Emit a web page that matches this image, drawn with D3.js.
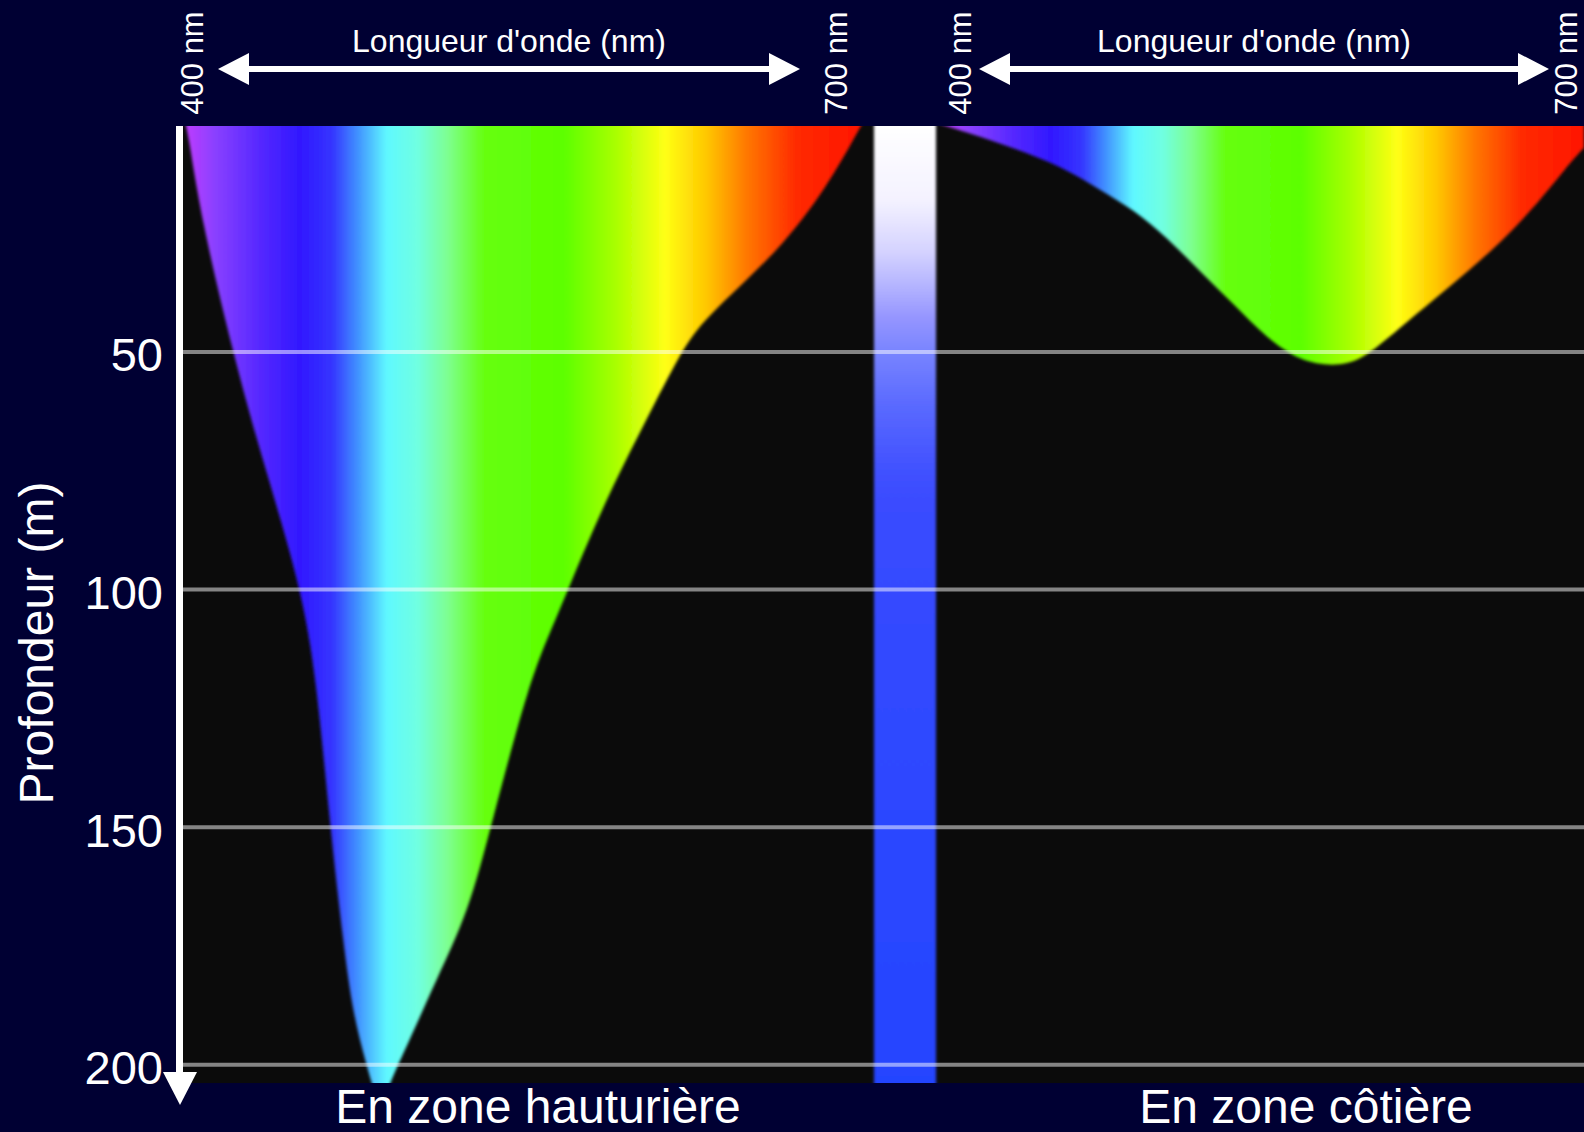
<!DOCTYPE html>
<html>
<head>
<meta charset="utf-8">
<script src="https://cdn.jsdelivr.net/npm/d3@7"></script>
<style>
    html, body { margin: 0; padding: 0; background: #000033; }
    svg { display: block; }
    text { font-family: "Liberation Sans", Arial, sans-serif; fill: #fff; }
</style>
</head>
<body>
<svg id="chart" width="1584" height="1132"></svg>
<script>
// depth (m) reached by light, per wavelength (nm)
let oceanWl = [400, 402, 408, 422, 434, 452, 459, 465, 471, 475, 481, 487, 492, 499, 512, 526, 536, 553, 565, 577, 590, 605, 620, 630, 663, 685, 700];
let oceanDepth = [0, 3, 22, 50, 71, 99, 119, 150, 175, 189, 200, 210, 203, 196, 182, 168, 150, 119, 106, 92, 78, 64, 50, 43, 29, 15, 2];
let coastWl = [400, 414, 434, 457, 475, 490, 506, 521, 537, 552, 568, 583, 596, 614, 630, 646, 661, 676, 692, 700];
let coastDepth = [2, 4, 7, 11, 16, 20, 26, 33, 40, 47, 52, 53, 52, 45, 39, 33, 27, 20, 11, 7];

// colour of the spectrum
let specWl = [400, 414, 434, 452, 466, 477, 490, 504, 517, 533, 568, 591, 613, 631, 649, 671, 700];
let specColors = ["#c23cff", "#8a40ff", "#5528ff", "#3018ff", "#3535ff", "#4090ff", "#5ff8ff", "#70ffe0", "#7dff90",
    "#66ff10", "#5cff00", "#a8ff00", "#ffff14", "#ffc800", "#ff7800", "#ff2a00", "#ff1500"];

// light column in the middle (white at the surface, blue at depth)
let barDepth = [2, 18, 29, 36, 43, 50, 61, 74, 81, 120, 204];
let barColors = ["#ffffff", "#f4f2ff", "#d4d2ff", "#b4b4ff", "#9494ff", "#7884ff", "#5a6aff", "#4252ff", "#3a4cff", "#3048ff", "#2444ff"];

let depthTicks = [50, 100, 150, 200];
let panelTitles = ["En zone hauturière", "En zone côtière"];
let wlLabels = ["400 nm", "700 nm"];
let axisTitle = "Longueur d'onde (nm)";
let depthTitle = "Profondeur (m)";

let plot = {left: 183, right: 1584, top: 126, bottom: 1083};
let svg = d3.select("#chart");
let defs = svg.append("defs");

let y = d3.scaleLinear().domain([0, 200]).range([114.4, 1064.8]);

let panels = [
    {id: "ocean", wl: oceanWl, depth: oceanDepth, x: d3.scaleLinear().domain([400, 700]).range([183, 862]),
        clip: [183, 874], arrow: [218, 800], labelX: [192, 836], titleX: 509, bottomX: 538, bottomText: panelTitles[0]},
    {id: "coast", wl: coastWl, depth: coastDepth, x: d3.scaleLinear().domain([400, 700]).range([940, 1584]),
        clip: [936, 1584], arrow: [979, 1549], labelX: [960, 1566], titleX: 1254, bottomX: 1306, bottomText: panelTitles[1]}
];

defs.append("filter").attr("id", "soft")
    .append("feGaussianBlur").attr("stdDeviation", 1.4);

svg.append("rect")
    .attr("x", plot.left).attr("y", plot.top)
    .attr("width", plot.right - plot.left).attr("height", plot.bottom - plot.top)
    .attr("fill", "#0b0b0b");

panels.forEach(p => {
    let grad = defs.append("linearGradient").attr("id", "spec-" + p.id)
        .attr("gradientUnits", "userSpaceOnUse")
        .attr("x1", p.x(400)).attr("x2", p.x(700)).attr("y1", 0).attr("y2", 0);
    grad.selectAll("stop").data(specWl).enter().append("stop")
        .attr("offset", d => (d - 400) / 300)
        .attr("stop-color", (d, i) => specColors[i]);

    defs.append("clipPath").attr("id", "clip-" + p.id)
        .append("rect")
        .attr("x", p.clip[0]).attr("y", plot.top)
        .attr("width", p.clip[1] - p.clip[0]).attr("height", plot.bottom - plot.top);

    let data = p.wl.map((w, i) => ({wl: w, depth: p.depth[i]}));
    let area = d3.area()
        .x(d => p.x(d.wl))
        .y0(y(0) - 20)
        .y1(d => y(d.depth))
        .curve(d3.curveBasis);

    svg.append("g").attr("clip-path", `url(#clip-${p.id})`)
        .append("path")
        .datum(data)
        .attr("d", area)
        .attr("fill", `url(#spec-${p.id})`)
        .attr("filter", "url(#soft)");
});

// middle light column
let barGrad = defs.append("linearGradient").attr("id", "barGrad")
    .attr("gradientUnits", "userSpaceOnUse")
    .attr("x1", 0).attr("x2", 0)
    .attr("y1", y(barDepth[0])).attr("y2", y(barDepth[barDepth.length - 1]));
barGrad.selectAll("stop").data(barDepth).enter().append("stop")
    .attr("offset", d => (d - barDepth[0]) / (barDepth[barDepth.length - 1] - barDepth[0]))
    .attr("stop-color", (d, i) => barColors[i]);

defs.append("clipPath").attr("id", "clip-plot")
    .append("rect")
    .attr("x", plot.left).attr("y", plot.top)
    .attr("width", plot.right - plot.left).attr("height", plot.bottom - plot.top);

svg.append("g").attr("clip-path", "url(#clip-plot)")
    .append("rect")
    .attr("x", 874).attr("width", 62)
    .attr("y", plot.top - 10).attr("height", plot.bottom - plot.top + 20)
    .attr("fill", "url(#barGrad)")
    .attr("filter", "url(#soft)");

// grid lines
svg.append("g").selectAll("line").data(depthTicks).enter().append("line")
    .attr("x1", plot.left).attr("x2", plot.right)
    .attr("y1", d => y(d)).attr("y2", d => y(d))
    .attr("stroke", "#fff")
    .attr("stroke-opacity", 0.5)
    .attr("stroke-width", 4);

// depth axis
let yAxis = svg.append("g")
    .attr("transform", "translate(163,0)")
    .call(d3.axisLeft(y).tickValues(depthTicks).tickSize(0).tickPadding(0));
yAxis.select(".domain").remove();
yAxis.selectAll("text")
    .attr("fill", "#fff")
    .attr("font-family", "'Liberation Sans', Arial, sans-serif")
    .attr("font-size", 47)
    .attr("dy", "0.4em");

svg.append("line")
    .attr("x1", 179.5).attr("x2", 179.5)
    .attr("y1", plot.top).attr("y2", 1075)
    .attr("stroke", "#fff").attr("stroke-width", 7);
svg.append("path")
    .attr("d", "M163,1072 L197,1072 L180,1105 Z")
    .attr("fill", "#fff");

svg.append("text")
    .attr("transform", "translate(53,643) rotate(-90)")
    .attr("text-anchor", "middle")
    .attr("font-size", 48)
    .text(depthTitle);

// wavelength arrows and labels on top
panels.forEach(p => {
    let a0 = p.arrow[0], a1 = p.arrow[1], ay = 69;
    svg.append("line")
        .attr("x1", a0 + 20).attr("x2", a1 - 20)
        .attr("y1", ay).attr("y2", ay)
        .attr("stroke", "#fff").attr("stroke-width", 6);
    svg.append("path")
        .attr("d", `M${a0},${ay} L${a0 + 31},${ay - 16} L${a0 + 31},${ay + 16} Z M${a1},${ay} L${a1 - 31},${ay - 16} L${a1 - 31},${ay + 16} Z`)
        .attr("fill", "#fff");

    svg.append("text")
        .attr("x", p.titleX).attr("y", 52)
        .attr("text-anchor", "middle")
        .attr("font-size", 32)
        .text(axisTitle);

    wlLabels.forEach((t, i) => {
        svg.append("text")
            .attr("transform", `translate(${p.labelX[i] + 11},63) rotate(-90)`)
            .attr("text-anchor", "middle")
            .attr("font-size", 31)
            .text(t);
    });

    svg.append("text")
        .attr("x", p.bottomX).attr("y", 1123)
        .attr("text-anchor", "middle")
        .attr("font-size", 48)
        .text(p.bottomText);
});
</script>
</body>
</html>
